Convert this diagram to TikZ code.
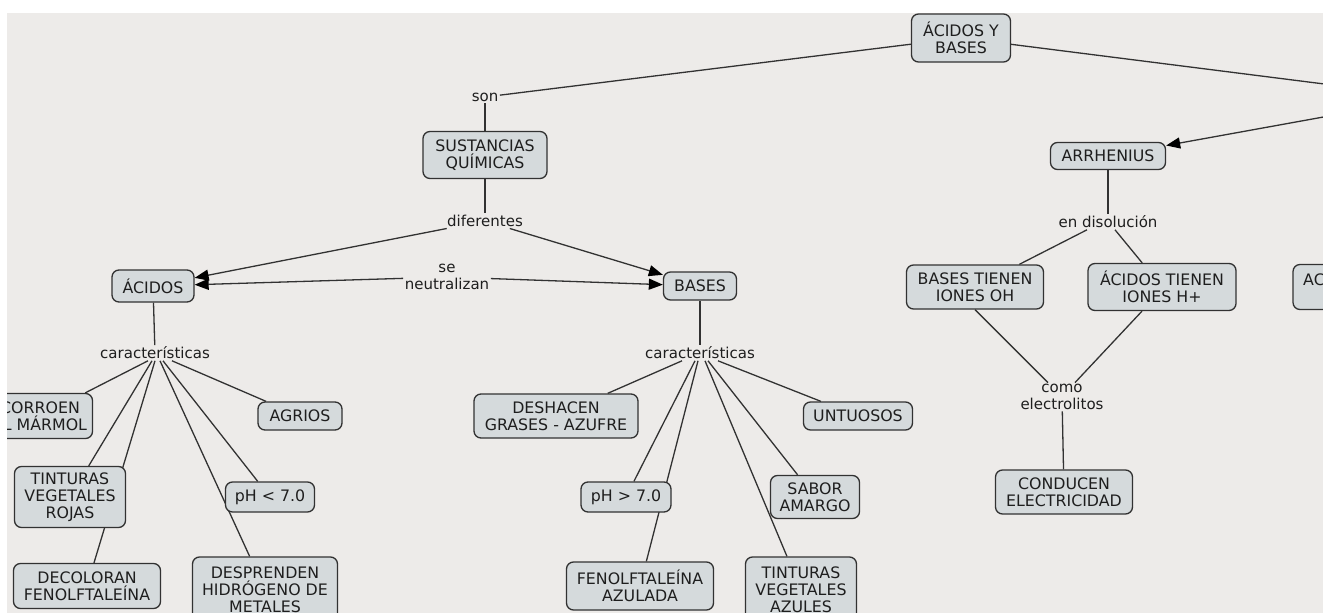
\documentclass[tikz,border=0pt]{standalone}
\usepackage{fontspec}
\setmainfont{DejaVu Sans}
\usetikzlibrary{arrows.meta,calc}
\pgfdeclarelayer{bg}\pgfdeclarelayer{edges}\pgfdeclarelayer{fg}
\pgfsetlayers{bg,edges,main,fg}
\definecolor{bgc}{RGB}{237,235,233}
\definecolor{boxc}{RGB}{213,218,220}
\definecolor{linec}{RGB}{50,50,50}
\definecolor{txtc}{RGB}{30,30,30}
\tikzset{
  concept/.style={draw=linec, line width=1.3pt, rounded corners=7pt, fill=boxc, align=center, inner sep=0pt, font=\fontsize{15.8}{16.8}\selectfont},
  link/.style={align=center, inner sep=1.5pt, text=txtc},
  conn/.style={draw=linec, line width=1.3pt},
  arrowconn/.style={conn, -{Triangle[length=14pt,width=11pt,color=black]}},
}
\begin{document}
\begin{tikzpicture}[x=1pt,y=-1pt, font=\fontsize{15}{16.8}\selectfont, text=txtc]
\useasboundingbox (0,0) rectangle (1323,613);
\begin{pgfonlayer}{bg}
  \fill[white] (0,0) rectangle (1323,613);
  \fill[bgc] (7,13) rectangle (1323,613);
\end{pgfonlayer}

% concepts
\node[concept, minimum width=99pt, minimum height=48pt] (ab) at (961,38) {ÁCIDOS Y\\BASES};
\node[concept, minimum width=124pt, minimum height=47pt] (sq) at (485,155) {SUSTANCIAS\\QUÍMICAS};
\node[concept, minimum width=82pt, minimum height=32pt] (acidos) at (153,286) {ÁCIDOS};
\node[concept, minimum width=73pt, minimum height=28pt] (bases) at (700,286) {BASES};
\node[concept, minimum width=105pt, minimum height=45pt] (corroen) at (40,416) {CORROEN\\EL MÁRMOL};
\node[concept, minimum width=84pt, minimum height=28pt] (agrios) at (300,416) {AGRIOS};
\node[concept, minimum width=111pt, minimum height=61pt] (tvr) at (70,497) {TINTURAS\\VEGETALES\\ROJAS};
\node[concept, minimum width=89pt, minimum height=30pt] (ph1) at (270,497) {pH < 7.0};
\node[concept, minimum width=147pt, minimum height=45pt] (dec) at (87,586) {DECOLORAN\\FENOLFTALEÍNA};
\node[concept, minimum width=145pt, minimum height=66pt] (desp) at (265,590) {DESPRENDEN\\HIDRÓGENO DE\\METALES};
\node[concept, minimum width=164pt, minimum height=44pt] (desh) at (556,416) {DESHACEN\\GRASES - AZUFRE};
\node[concept, minimum width=109pt, minimum height=28pt] (untu) at (858,416) {UNTUOSOS};
\node[concept, minimum width=90pt, minimum height=30pt] (ph2) at (626,497) {pH > 7.0};
\node[concept, minimum width=89pt, minimum height=43pt] (sabor) at (815,497) {SABOR\\AMARGO};
\node[concept, minimum width=147pt, minimum height=48pt] (fen) at (640,586) {FENOLFTALEÍNA\\AZULADA};
\node[concept, minimum width=111pt, minimum height=66pt] (tva) at (801,590) {TINTURAS\\VEGETALES\\AZULES};
\node[concept, minimum width=115pt, minimum height=27pt] (arr) at (1108,156) {ARRHENIUS};
\node[concept, minimum width=137pt, minimum height=44pt] (btoh) at (975,287) {BASES TIENEN\\IONES OH};
\node[concept, minimum width=148pt, minimum height=47pt] (athp) at (1162,287) {ÁCIDOS TIENEN\\IONES H+};
\node[concept, minimum width=94pt, minimum height=45pt] (acb) at (1340,287) {};
\node[anchor=west, inner sep=0pt, font=\fontsize{15.8}{16.8}\selectfont] (actext) at (1303,280) {AC};
\node[concept, minimum width=137pt, minimum height=44pt] (cond) at (1064,492) {CONDUCEN\\ELECTRICIDAD};

% linking phrases
\node[link] (son) at (485,97) {son};
\node[link] (dif) at (485,221) {diferentes};
\node[link] (neut) at (447,277) {se\\neutralizan};
\node[link] (car1) at (155,353) {características};
\node[link] (car2) at (700,353) {características};
\node[link] (endis) at (1108,222) {en disolución};
\node[link] (como) at (1062,397) {como\\electrolitos};

\coordinate (offa) at (1340,86);
\coordinate (offb) at (1340,114);

\begin{pgfonlayer}{edges}
  \draw[conn] (ab) -- (son);
  \draw[conn] (ab) -- (offa);
  \draw[arrowconn] (offb) -- (arr);
  \draw[conn] (son) -- (sq);
  \draw[conn] (sq) -- (dif);
  \draw[arrowconn] (dif) -- (acidos);
  \draw[arrowconn] (dif) -- (bases);
  \draw[arrowconn] (neut) -- (acidos);
  \draw[arrowconn] (neut) -- (bases);
  \draw[conn] (acidos) -- (car1);
  \draw[conn] (bases) -- (car2);
  % left characteristics
  \draw[conn] ([xshift=-7pt]car1.south) -- (corroen);
  \draw[conn] ([xshift=-3pt]car1.south) -- (tvr);
  \draw[conn] (car1.south) -- (dec);
  \draw[conn] ([xshift=5pt]car1.south) -- (desp);
  \draw[conn] ([xshift=8pt]car1.south) -- (ph1);
  \draw[conn] ([xshift=17pt]car1.south) -- (agrios);
  % right characteristics
  \draw[conn] ([xshift=-18pt]car2.south) -- (desh);
  \draw[conn] ([xshift=-5pt]car2.south) -- (ph2);
  \draw[conn] ([xshift=-2pt]car2.south) -- (fen);
  \draw[conn] ([xshift=5pt]car2.south) -- (tva);
  \draw[conn] ([xshift=8pt]car2.south) -- (sabor);
  \draw[conn] ([xshift=18pt]car2.south) -- (untu);
  % Arrhenius
  \draw[conn] (arr) -- (endis);
  \draw[conn] ([xshift=-21pt]endis.south) -- (btoh);
  \draw[conn] ([xshift=7pt]endis.south) -- (athp);
  \draw[conn] (btoh.south) -- ([xshift=-14pt]como.north);
  \draw[conn] ([xshift=-20pt]athp.south) -- ([xshift=13pt]como.north);
  \draw[conn] (como) -- (cond);
\end{pgfonlayer}

\begin{pgfonlayer}{fg}
  \fill[white] (0,0) rectangle (7,613);
  \fill[white] (0,0) rectangle (1323,13);
\end{pgfonlayer}
\end{tikzpicture}
\end{document}
